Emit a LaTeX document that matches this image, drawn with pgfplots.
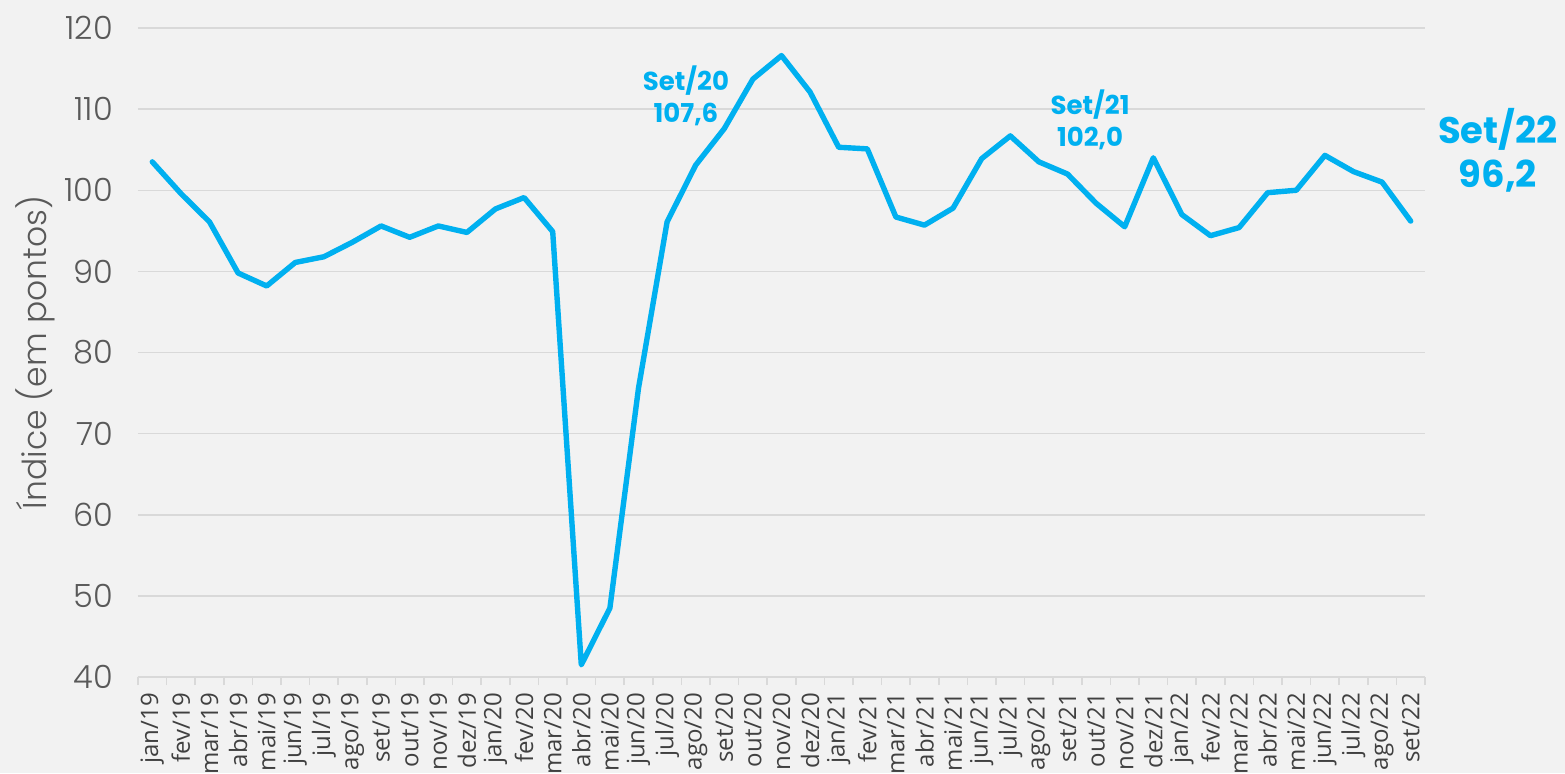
\documentclass[border=0pt]{standalone}
\usepackage{fontspec}
\setmainfont{Poppins}
\IfFontExistsTF{Poppins Light}{\newfontfamily\lightfont{Poppins Light}}{\newfontfamily\lightfont{Poppins}}
\newfontfamily\xfont{Open Sans}
\usepackage{pgfplots}
\pgfplotsset{compat=1.18}
\definecolor{bg}{HTML}{F2F2F2}
\definecolor{serie}{HTML}{00B0F0}
\definecolor{gridc}{HTML}{D9D9D9}
\definecolor{txt}{HTML}{595959}
\definecolor{xtxt}{HTML}{404040}
\begin{document}
\begin{tikzpicture}[x=1pt,y=1pt]
\fill[bg] (0,0) rectangle (782.5,386.5);
\useasboundingbox (0,0) rectangle (782.5,386.5);
\begin{axis}[
  at={(69pt,48pt)}, anchor=south west,
  scale only axis, width=643.5pt, height=324.5pt,
  xmin=-0.5, xmax=44.5, ymin=40, ymax=120,
  ytick={40,50,...,120},
  xtick={0,...,44},
  xticklabels={jan/19,fev/19,mar/19,abr/19,mai/19,jun/19,jul/19,ago/19,set/19,out/19,nov/19,dez/19,jan/20,fev/20,mar/20,abr/20,mai/20,jun/20,jul/20,ago/20,set/20,out/20,nov/20,dez/20,jan/21,fev/21,mar/21,abr/21,mai/21,jun/21,jul/21,ago/21,set/21,out/21,nov/21,dez/21,jan/22,fev/22,mar/22,abr/22,mai/22,jun/22,jul/22,ago/22,set/22},
  minor xtick={-0.5,0.5,...,44.5},
  xtick align=outside,
  major x tick style={draw=none},
  minor x tick style={gridc, line width=0.75pt},
  minor tick length=4pt,
  major tick length=0pt,
  ytick style={draw=none},
  ymajorgrids, major grid style={gridc, line width=0.75pt},
  axis lines*=left,
  x axis line style={gridc, line width=0.75pt, -},
  y axis line style={draw=none},
  /pgf/number format/assume math mode=true,
  yticklabel style={font=\lightfont\fontsize{16}{16}\selectfont, text=txt, xshift=-9pt},
  xticklabel style={font=\xfont\fontsize{12}{12}\selectfont, text=xtxt, rotate=90, anchor=east},
  xticklabel shift=4.5pt,
  ylabel={Índice (em pontos)},
  every axis y label/.style={at={(axis description cs:-0.08,0.5)}, rotate=90, anchor=center, font=\lightfont\fontsize{16.5}{16.5}\selectfont, text=txt},
  clip=false,
]
\addplot[serie, line width=2.7pt, line join=round, line cap=round] coordinates {
(0,103.5) (1,99.6) (2,96.1) (3,89.8) (4,88.2) (5,91.1) (6,91.8) (7,93.6) (8,95.6) (9,94.2)
(10,95.6) (11,94.8) (12,97.7) (13,99.1) (14,94.9) (15,41.5) (16,48.5) (17,75.6) (18,96.1) (19,103.1)
(20,107.6) (21,113.7) (22,116.6) (23,112.1) (24,105.3) (25,105.1) (26,96.7) (27,95.7) (28,97.8) (29,103.9)
(30,106.7) (31,103.5) (32,102.0) (33,98.4) (34,95.5) (35,104.0) (36,97.0) (37,94.4) (38,95.4) (39,99.7)
(40,100.0) (41,104.3) (42,102.3) (43,101.0) (44,96.2)
};
\node[text=serie, font=\bfseries\fontsize{13}{16}\selectfont, align=center] at (axis cs:18.66,111.6) {Set/20\\107,6};
\node[text=serie, font=\bfseries\fontsize{13}{16}\selectfont, align=center] at (axis cs:32.79,108.7) {Set/21\\102,0};
\node[text=serie, font=\bfseries\fontsize{18.5}{22}\selectfont, align=center] at (axis cs:47.05,104.96) {Set/22\\96,2};
\end{axis}
\end{tikzpicture}
\end{document}
